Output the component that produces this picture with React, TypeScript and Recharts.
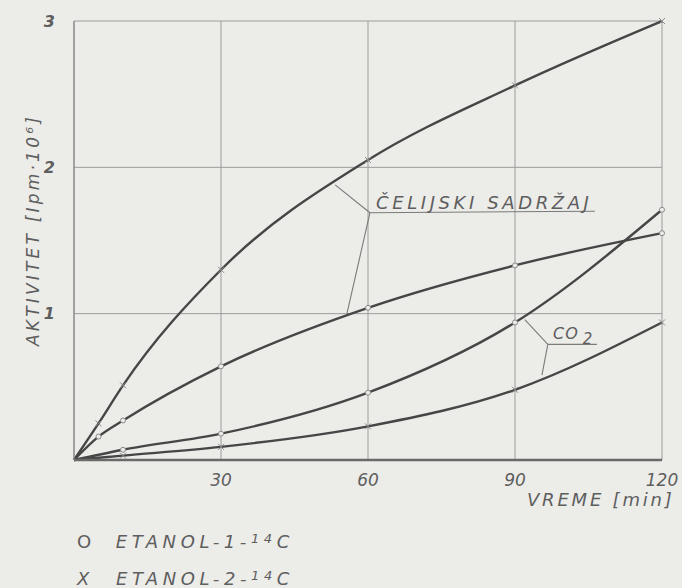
import React from "react";
import { LineChart, Line, XAxis, YAxis, CartesianGrid, ReferenceLine } from "recharts";

// minutes / activity [Ipm·10⁶]
const xCell = [
  { t: 0, v: 0 },
  { t: 5, v: 0.25 },
  { t: 10, v: 0.51 },
  { t: 30, v: 1.3 },
  { t: 60, v: 2.05 },
  { t: 90, v: 2.56 },
  { t: 120, v: 3.0 },
];
const oCell = [
  { t: 0, v: 0 },
  { t: 5, v: 0.16 },
  { t: 10, v: 0.27 },
  { t: 30, v: 0.64 },
  { t: 60, v: 1.04 },
  { t: 90, v: 1.33 },
  { t: 120, v: 1.55 },
];
const oCO2 = [
  { t: 0, v: 0 },
  { t: 10, v: 0.07 },
  { t: 30, v: 0.18 },
  { t: 60, v: 0.46 },
  { t: 90, v: 0.94 },
  { t: 120, v: 1.71 },
];
const xCO2 = [
  { t: 0, v: 0 },
  { t: 10, v: 0.03 },
  { t: 30, v: 0.09 },
  { t: 60, v: 0.23 },
  { t: 90, v: 0.48 },
  { t: 120, v: 0.94 },
];

const xTicks = [30, 60, 90, 120];
const yTicks = [1, 2, 3];

// leader lines of the two annotations
const cellLeaders = [
  [{ x: 53.3, y: 1.88 }, { x: 60.4, y: 1.69 }],
  [{ x: 60.4, y: 1.69 }, { x: 106.3, y: 1.7 }],
  [{ x: 60.4, y: 1.69 }, { x: 55.7, y: 1.0 }],
];
const co2Leaders = [
  [{ x: 92.0, y: 0.96 }, { x: 96.7, y: 0.79 }],
  [{ x: 96.7, y: 0.79 }, { x: 106.7, y: 0.79 }],
  [{ x: 96.7, y: 0.79 }, { x: 95.5, y: 0.58 }],
];

const INK = "#464646";
const TEXT = "#5e5e5e";
const FONT = "'DejaVu Sans', sans-serif";

const textStyle: React.CSSProperties = {
  position: "absolute",
  fontFamily: FONT,
  fontStyle: "italic",
  color: TEXT,
  whiteSpace: "nowrap",
  lineHeight: 1,
};

function XMark(props: any) {
  const { cx, cy, index } = props;
  if (index === 0 || cx == null) return <g key={index} />;
  const s = 3;
  return (
    <g key={index} stroke="#8a8a8a" strokeWidth={1}>
      <line x1={cx - s} y1={cy - s} x2={cx + s} y2={cy + s} />
      <line x1={cx - s} y1={cy + s} x2={cx + s} y2={cy - s} />
    </g>
  );
}

function OMark(props: any) {
  const { cx, cy, index } = props;
  if (index === 0 || cx == null) return <g key={index} />;
  return <circle key={index} cx={cx} cy={cy} r={2.5} fill="#ecece9" stroke="#8a8a8a" strokeWidth={1} />;
}

export default function App() {
  return (
    <div style={{ position: "relative", width: 682, height: 588, background: "#ecece9" }}>
      <style>{"body{margin:0}"}</style>
      <LineChart width={682} height={588} margin={{ top: 21, right: 20, bottom: 98, left: 44 }}>
        <CartesianGrid stroke="#9c9c9c" strokeWidth={1} />
        <XAxis
          type="number"
          dataKey="t"
          domain={[0, 120]}
          ticks={xTicks}
          height={30}
          axisLine={{ stroke: "#6a6a6a", strokeWidth: 2.5 }}
          tickLine={false}
          tickSize={4}
          tickMargin={10}
          tick={{ fill: TEXT, fontSize: 17, fontStyle: "italic", fontFamily: FONT }}
        />
        <YAxis
          type="number"
          dataKey="v"
          domain={[0, 3]}
          ticks={yTicks}
          width={30}
          axisLine={{ stroke: "#8a8a8a", strokeWidth: 1.2 }}
          tickLine={false}
          tickSize={0}
          tickMargin={19}
          tick={{ fill: TEXT, fontSize: 16, fontStyle: "italic", fontFamily: FONT, fontWeight: "bold" }}
        />
        {cellLeaders.concat(co2Leaders).map((seg, i) => (
          <ReferenceLine key={i} segment={seg} stroke="#7a7a7a" strokeWidth={1.1} />
        ))}
        <Line data={xCell} dataKey="v" type="monotone" stroke={INK} strokeWidth={2.4} dot={XMark} isAnimationActive={false} />
        <Line data={oCell} dataKey="v" type="monotone" stroke={INK} strokeWidth={2.4} dot={OMark} isAnimationActive={false} />
        <Line data={oCO2} dataKey="v" type="monotone" stroke={INK} strokeWidth={2.4} dot={OMark} isAnimationActive={false} />
        <Line data={xCO2} dataKey="v" type="monotone" stroke={INK} strokeWidth={2.4} dot={XMark} isAnimationActive={false} />
      </LineChart>

      <div style={{ ...textStyle, left: 376, top: 194, fontSize: 18, letterSpacing: 3.6 }}>ČELIJSKI SADRŽAJ</div>
      <div style={{ ...textStyle, left: 553, top: 326, fontSize: 16, letterSpacing: 1 }}>
        CO<sub style={{ fontSize: 15, verticalAlign: -5, marginLeft: 4 }}>2</sub>
      </div>
      <div style={{ ...textStyle, left: 527, top: 491, fontSize: 18, letterSpacing: 2.8 }}>VREME [min]</div>
      <div
        style={{
          ...textStyle,
          left: 33,
          top: 230,
          fontSize: 17,
          letterSpacing: 3.2,
          transform: "translate(-50%, -50%) rotate(-90deg)",
        }}
      >
        AKTIVITET [Ipm·10⁶]
      </div>
      <div style={{ ...textStyle, left: 77, top: 532, fontSize: 18, letterSpacing: 4.6 }}>
        <span style={{ fontStyle: "normal", marginRight: 20 }}>O</span>ETANOL-1-<sup style={{ fontSize: 13, verticalAlign: 5 }}>14</sup>C
      </div>
      <div style={{ ...textStyle, left: 77, top: 569, fontSize: 18, letterSpacing: 4.6 }}>
        <span style={{ marginRight: 22 }}>X</span>ETANOL-2-<sup style={{ fontSize: 13, verticalAlign: 5 }}>14</sup>C
      </div>
    </div>
  );
}
